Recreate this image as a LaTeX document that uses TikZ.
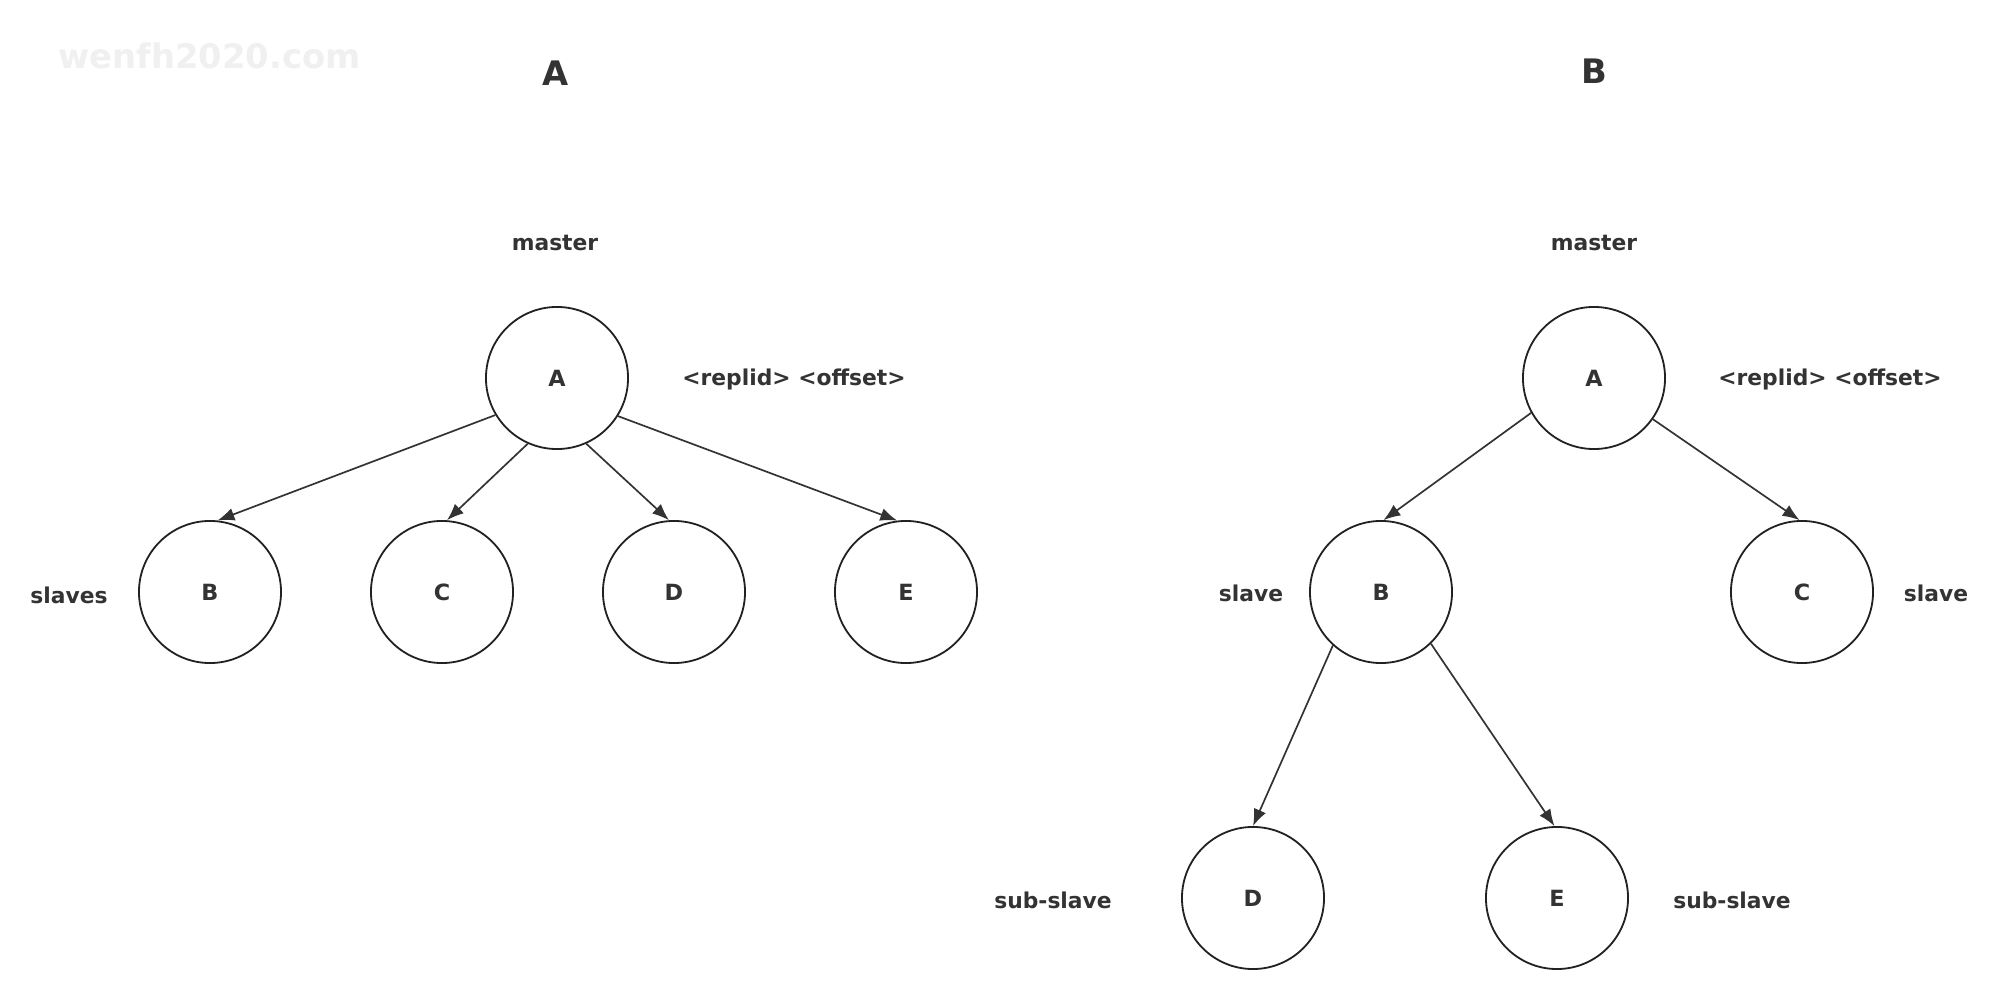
\documentclass[tikz,border=0pt]{standalone}
\usepackage{fontspec}
\setmainfont{DejaVu Sans}
\usetikzlibrary{arrows.meta}
\definecolor{ink}{HTML}{333333}
\definecolor{rim}{HTML}{222222}
\definecolor{wm}{HTML}{F0F0F0}
\begin{document}
\begin{tikzpicture}[x=0.385pt,y=-0.385pt,
  nd/.style={circle, draw=rim, line width=0.7pt, minimum size=54.7pt, inner sep=0pt,
             font=\fontsize{8.6}{10}\selectfont\bfseries, text=ink},
  lbl/.style={font=\fontsize{8.4}{10}\selectfont\bfseries, text=ink, inner sep=0pt},
  ttl/.style={font=\fontsize{13}{16}\selectfont\bfseries, text=ink, inner sep=0pt},
  wmark/.style={font=\fontsize{13}{16}\selectfont\bfseries, text=wm, inner sep=0pt},
  link/.style={draw=ink, line width=0.65pt, -{Latex[length=6.5pt,width=5pt]}}]
\fill[white] (0,0) rectangle (2016,1002);
\useasboundingbox (0,0) rectangle (2016,1002);

\node[wmark] (wmk) at (209.5,56) {wenfh2020.com};

% ---------- left diagram ----------
\node[ttl] (tA) at (556,73) {A};
\node[lbl] (mL) at (555,243) {master};
\node[nd] (A1) at (557,378) {A};
\node[lbl] (rL) at (794,379) {<replid> <offset>};
\node[nd] (B1) at (210,592) {B};
\node[nd] (C1) at (442,592) {C};
\node[nd] (D1) at (674,592) {D};
\node[nd] (E1) at (906,592) {E};
\node[lbl] (sL) at (69,595) {slaves};

\draw[link] (A1.211.7) -- (B1.84);
\draw[link] (A1.246.9) -- (C1.86);
\draw[link] (A1.294.2) -- (D1.94);
\draw[link] (A1.328) -- (E1.97);

% ---------- right diagram ----------
\node[ttl] (tB) at (1594,71.5) {B};
\node[lbl] (mR) at (1594,243) {master};
\node[nd] (A2) at (1594,378) {A};
\node[lbl] (rR) at (1830,379) {<replid> <offset>};
\node[nd] (B2) at (1381,592) {B};
\node[nd] (C2) at (1802,592) {C};
\node[lbl] (slL) at (1251,593) {slave};
\node[lbl] (slR) at (1936,593) {slave};
\node[nd] (D2) at (1253,898) {D};
\node[nd] (E2) at (1557,898) {E};
\node[lbl] (ssL) at (1053,900) {sub-slave};
\node[lbl] (ssR) at (1732,900) {sub-slave};

\draw[link] (A2.209.5) -- (B2.88);
\draw[link] (A2.325.6) -- (C2.92);
\draw[link] (B2.228.2) -- (D2.north);
\draw[link] (B2.314) -- (E2.92);
\end{tikzpicture}
\end{document}
